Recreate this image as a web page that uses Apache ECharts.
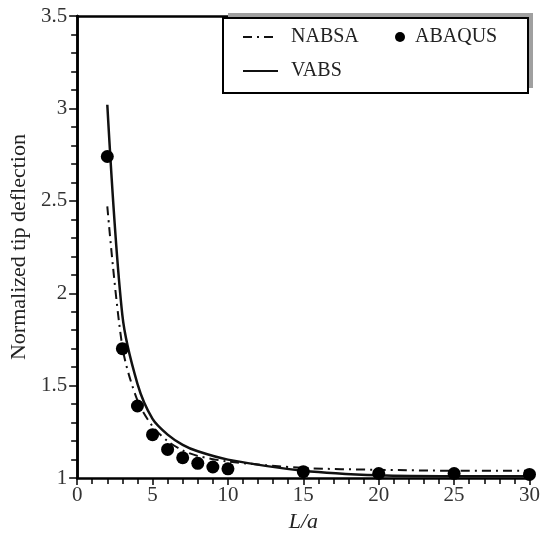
<!DOCTYPE html>
<html>
<head>
<meta charset="utf-8">
<script src="https://cdn.jsdelivr.net/npm/echarts@6/dist/echarts.min.js"></script>
<style>
  html, body { margin: 0; padding: 0; background: #fff; }
  #main { width: 543px; height: 538px; }
</style>
</head>
<body>
<div id="main"></div>
<script>
// 数据
const vabsX = [2, 3, 4, 5, 6, 7, 8, 10, 15, 20, 25, 30];
const vabsY = [3.02, 1.88, 1.51, 1.32, 1.235, 1.18, 1.145, 1.10, 1.04, 1.015, 1.01, 1.01];

const nabsaX = [2, 3, 4, 5, 6, 7, 8, 10, 15, 20, 25, 30];
const nabsaY = [2.47, 1.71, 1.42, 1.28, 1.20, 1.15, 1.12, 1.09, 1.055, 1.045, 1.04, 1.04];

const abaqusX = [2, 3, 4, 5, 6, 7, 8, 9, 10, 15, 20, 25, 30];
const abaqusY = [2.74, 1.70, 1.39, 1.235, 1.155, 1.11, 1.08, 1.06, 1.05, 1.035, 1.025, 1.025, 1.02];

const zip = (xs, ys) => xs.map((x, i) => [x, ys[i]]);

const font = 'Liberation Serif, Times New Roman, serif';
const chart = echarts.init(document.getElementById('main'));

const tickStyle = { color: '#000', width: 1.5 };

chart.setOption({
  animation: false,
  grid: { // 图表间距
    left: 73,
    right: 12,
    top: 16,
    bottom: 56
  },
  graphic: [
    { // 图例框 + 灰色阴影
      type: 'rect',
      z: 10,
      shape: { x: 228, y: 13, width: 305, height: 75 },
      style: { fill: '#a0a0a0' }
    },
    {
      type: 'rect',
      z: 11,
      shape: { x: 223, y: 18, width: 305, height: 75 },
      style: { fill: '#fff', stroke: '#000', lineWidth: 2 }
    }
  ],
  legend: [
    {
      orient: 'vertical',
      left: 242,
      top: 27,
      padding: 0,
      z: 20,
      itemGap: 14,
      itemWidth: 35,
      itemHeight: 14,
      textStyle: { fontFamily: font, fontSize: 20, lineHeight: 20, color: '#222', padding: [0, 0, 0, 8] },
      data: [
        { name: 'NABSA', itemStyle: { opacity: 0 } },
        { name: 'VABS', itemStyle: { opacity: 0 } }
      ]
    },
    {
      left: 395,
      top: 27,
      padding: 0,
      z: 20,
      itemWidth: 10,
      itemHeight: 10,
      textStyle: { fontFamily: font, fontSize: 20, lineHeight: 20, color: '#222', padding: [0, 0, 0, 5] },
      data: [{ name: 'ABAQUS', icon: 'circle' }]
    }
  ],
  xAxis: [
    {
      type: 'value',
      min: 0,
      max: 30,
      interval: 5,
      name: 'L/a',
      nameLocation: 'middle',
      nameGap: 30,
      nameTextStyle: { fontFamily: font, fontSize: 22, fontStyle: 'italic', color: '#222' },
      axisLine: { lineStyle: { color: '#000', width: 2.5 } },
      axisTick: { inside: false, length: 7, lineStyle: tickStyle },
      minorTick: { show: true, splitNumber: 5, length: 6, lineStyle: tickStyle },
      axisLabel: { fontFamily: font, fontSize: 21, color: '#333', margin: 7 },
      splitLine: { show: false }
    },
    { // 上边框
      type: 'value',
      position: 'top',
      min: 0,
      max: 30,
      axisLine: { show: true, lineStyle: { color: '#000', width: 2.5 } },
      axisTick: { show: false },
      axisLabel: { show: false },
      splitLine: { show: false }
    }
  ],
  yAxis: [
    {
      type: 'value',
      min: 1,
      max: 3.5,
      interval: 0.5,
      name: 'Normalized tip deflection',
      nameLocation: 'middle',
      nameGap: 44,
      nameTextStyle: { fontFamily: font, fontSize: 22, color: '#222' },
      axisLine: { show: true, lineStyle: { color: '#000', width: 2.5 } },
      axisTick: { inside: false, length: 8, lineStyle: tickStyle },
      minorTick: { show: true, splitNumber: 5, length: 6, lineStyle: tickStyle },
      axisLabel: { fontFamily: font, fontSize: 21, color: '#333', margin: 10 },
      splitLine: { show: false }
    },
    { // 右边框
      type: 'value',
      position: 'right',
      min: 1,
      max: 3.5,
      axisLine: { show: true, lineStyle: { color: '#000', width: 2.5 } },
      axisTick: { show: false },
      axisLabel: { show: false },
      splitLine: { show: false }
    }
  ],
  series: [
    {
      name: 'NABSA',
      type: 'line',
      data: zip(nabsaX, nabsaY),
      symbol: 'none',
      smooth: 0.3,
      z: 3,
      lineStyle: { color: '#111', width: 2, type: [9, 5, 2, 5] },
      itemStyle: { color: '#111' }
    },
    {
      name: 'ABAQUS',
      type: 'scatter',
      data: zip(abaqusX, abaqusY),
      symbol: 'circle',
      symbolSize: 13,
      z: 4,
      itemStyle: { color: '#000', opacity: 1 }
    },
    {
      name: 'VABS',
      type: 'line',
      data: zip(vabsX, vabsY),
      symbol: 'none',
      smooth: 0.3,
      z: 3,
      lineStyle: { color: '#111', width: 2.5 },
      itemStyle: { color: '#111' }
    }
  ]
});
</script>
</body>
</html>
